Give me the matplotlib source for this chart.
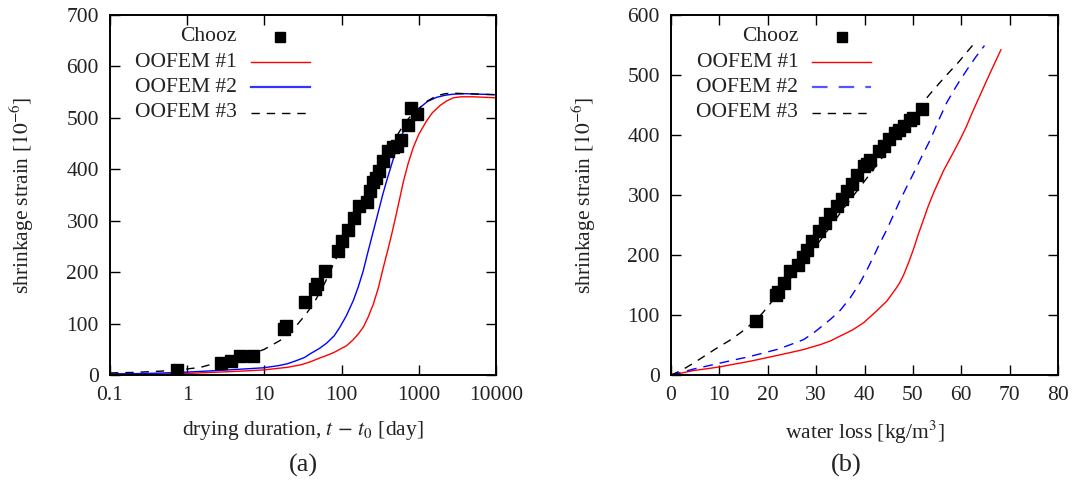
import matplotlib
matplotlib.use("Agg")
import matplotlib.pyplot as plt
import numpy as np

plt.rcParams['font.family'] = ['Liberation Serif', 'DejaVu Serif']
plt.rcParams['mathtext.fontset'] = 'stix'

# ---------------- (a) shrinkage vs. drying duration ----------------
chooz_t = [0.74, 2.7, 3.7, 4.8, 7.2, 18, 19, 34, 45, 48, 61, 91, 102, 120, 146,
           170, 211, 233, 258, 277, 308, 348, 404, 468, 518, 589, 733, 794, 940]
chooz_eps_t = [10, 24, 28, 36, 36, 89, 96, 142, 167, 177, 202, 242, 260, 281, 305,
               329, 336, 358, 375, 384, 397, 417, 436, 443, 446, 456, 486, 520, 507]

oofem1_t = [0.1, 0.2, 0.5, 1, 2, 3, 5, 10, 20, 30, 40, 52, 64, 80, 95, 116, 140,
            165, 191, 220, 258, 300, 347, 400, 446, 492, 560, 631, 730, 851, 1000,
            1260, 1500, 1883, 2300, 2800, 3500, 5000, 10000]
oofem1_eps = [1, 1.3, 2, 3, 5, 6, 7.5, 10, 15, 20, 26, 33, 38, 44, 50, 57, 68,
              80, 93, 112, 138, 170, 209, 245, 274, 302, 340, 376, 412, 443, 468,
              494, 510, 524, 533, 539, 541, 541, 539]

oofem2_t = [0.1, 0.3, 0.81, 2, 4, 9.7, 15, 20, 26, 33, 40, 52, 64, 80, 95, 115,
            142, 165, 191, 220, 258, 300, 340, 384, 450, 518, 630, 770, 900, 1037,
            1300, 1708, 2200, 2800, 4000, 10000]
oofem2_eps = [2, 3, 5, 8, 10.5, 14, 18, 22, 28, 34, 42, 52, 62, 76, 93, 115,
              145, 172, 203, 240, 280, 318, 350, 378, 412, 443, 473, 494, 509, 520,
              532, 540, 544, 546, 547, 545]

oofem3_t = [0.1, 0.2, 0.4, 0.81, 1.5, 2.2, 3.5, 5, 7.2, 10, 15.9, 20, 26, 34, 43,
            52, 62, 82, 100, 130, 160, 200, 250, 300, 400, 492, 662, 850, 1037,
            1300, 1708, 2200, 2800, 4000, 10000]
oofem3_eps = [4, 5, 7, 10, 15, 22, 30, 36, 42, 50, 67, 78, 96, 117, 138,
              160, 182, 222, 248, 280, 308, 337, 366, 392, 428, 459, 491, 509, 520,
              533, 543, 547, 548, 547, 545]

# ---------------- (b) shrinkage vs. water loss ----------------
chooz_w = [17.5, 21.7, 22.2, 23.4, 24.7, 26.2, 27.2, 28.2, 29.1, 30.5, 31.9, 32.9,
           34.3, 35.3, 36.4, 37.4, 38.4, 39.8, 40.5, 41.2, 42.9, 44.0, 45.0, 46.3,
           47.2, 48.1, 49.5, 50.1, 51.9]
chooz_eps_w = [90, 134, 139, 153, 174, 184, 197, 208, 223, 240, 254, 268,
               281, 293, 306, 318, 334, 348, 352, 359, 373, 382, 393, 404,
               408, 415, 425, 429, 443]

oofem1_w = [0, 2, 4.7, 7.5, 10.2, 13, 16.4, 19, 21.9, 25, 27.4, 31, 33, 35, 37.5,
            39.8, 42, 44.6, 45.5, 46.5, 47.3, 48.1, 49.1, 50.1, 51.1, 52.2, 53.2,
            54.3, 55.3, 56.3, 57.5, 58.7, 59.8, 61.0, 62.1, 63.2, 64.6, 66, 67.1,
            68.2]
oofem1_epsw = [0, 3, 7.5, 10.5, 13.7, 18, 23, 27.5, 32.5, 38, 42.5, 51, 57, 65, 75,
               87, 103, 123, 133, 144, 154, 167, 187, 209, 234, 259, 282,
               304, 322, 340, 358, 376, 393, 413, 434, 454, 479, 504, 523,
               542]

oofem2_w = [0, 2, 4.7, 7.5, 10.2, 13, 16.4, 19, 21.9, 24.5, 27.4, 29.3, 31, 33, 35,
            37, 39.1, 40.5, 41.9, 43.2, 44.6, 46, 47.4, 49, 50.5, 52, 53.6, 55.3,
            57, 59.1, 61.2, 63, 64.8]
oofem2_epsw = [0, 4, 10, 15, 20, 25, 31, 36.5, 42.5, 50, 59, 69, 80, 93, 108,
               128, 154, 175, 198, 220, 242, 267, 292, 318, 342, 367, 392, 424,
               454, 483, 509, 530, 549]

oofem3_w = [0, 2, 4.7, 7, 9.5, 12, 14.3, 17.4, 19, 20.5, 22, 24, 27, 30, 33, 36,
            40, 44, 47, 50.8, 53.5, 56.3, 59.5, 62.5]
oofem3_epsw = [0, 7, 20, 32, 45, 57, 70, 90, 104, 119, 134, 154, 184, 215, 248, 281,
               323, 366, 400, 441, 468, 494, 522, 551]

W, H = 1072, 491
fig = plt.figure(figsize=(W / 100, H / 100), dpi=100)

ax_a = fig.add_axes([110 / W, 1 - 375 / H, 386 / W, 360 / H])
ax_b = fig.add_axes([671 / W, 1 - 375 / H, 387 / W, 360 / H])

FS = 15.5
TXT = '#222222'
msq = dict(marker='s', ms=8, color='black', linestyle='none')

# panel (a)
ax_a.plot(oofem1_t, oofem1_eps, color='#ff0000', lw=1.0)
ax_a.plot(oofem2_t, oofem2_eps, color='#0000ff', lw=1.0)
ax_a.plot(oofem3_t, oofem3_eps, color='black', lw=1.0, dashes=(6, 5))
ax_a.plot(chooz_t, chooz_eps_t, **msq)
ax_a.set_xscale('log')
ax_a.set_xlim(0.1, 10000)
ax_a.set_ylim(0, 700)
ax_a.set_xticks([0.1, 1, 10, 100, 1000, 10000])
ax_a.set_xticklabels(['0.1', '1', '10', '100', '1000', '10000'])
ax_a.xaxis.set_minor_locator(matplotlib.ticker.NullLocator())
ax_a.set_yticks(np.arange(0, 701, 100))
ax_a.set_xlabel(r'drying duration, $t\,-\,t_0$ [day]', fontsize=FS, color=TXT)
ax_a.set_ylabel(r'shrinkage strain [$10^{-6}$]', fontsize=FS, color=TXT)
ax_a.xaxis.set_label_coords(0.5, -0.122)
ax_a.yaxis.set_label_coords(-0.193, 0.5)

# panel (b)
ax_b.plot(oofem1_w, oofem1_epsw, color='#ff0000', lw=1.0)
ax_b.plot(oofem2_w, oofem2_epsw, color='#0000ff', lw=1.0, dashes=(7, 5))
ax_b.plot(oofem3_w, oofem3_epsw, color='black', lw=1.0, dashes=(6, 5))
ax_b.plot(chooz_w, chooz_eps_w, **msq)
ax_b.set_xlim(0, 80)
ax_b.set_ylim(0, 600)
ax_b.set_xticks(np.arange(0, 81, 10))
ax_b.set_yticks(np.arange(0, 601, 100))
ax_b.set_xlabel(r'water loss [kg/m$^3$]', fontsize=FS, color=TXT)
ax_b.set_ylabel(r'shrinkage strain [$10^{-6}$]', fontsize=FS, color=TXT)
ax_b.xaxis.set_label_coords(0.5, -0.122)
ax_b.yaxis.set_label_coords(-0.188, 0.5)

for ax in (ax_a, ax_b):
    ax.tick_params(direction='in', length=7, width=1.0, top=True, right=True,
                   labelsize=FS, colors=TXT, pad=8)
    ax.tick_params(color='black')
    for s in ax.spines.values():
        s.set_linewidth(1.4)
        s.set_color('black')

# gnuplot-style key: right-aligned text, sample to the right
series_styles = {
    'a': [('Chooz', None), ('OOFEM #1', dict(color='#ff0000', lw=1.0)),
          ('OOFEM #2', dict(color='#3333ff', lw=1.6)),
          ('OOFEM #3', dict(color='black', lw=1.0, dashes=(6, 5)))],
    'b': [('Chooz', None), ('OOFEM #1', dict(color='#ff0000', lw=1.0)),
          ('OOFEM #2', dict(color='#5555ff', lw=1.6, dashes=(7, 5))),
          ('OOFEM #3', dict(color='black', lw=1.0, dashes=(6, 5)))],
}
key_y = [0.939, 0.869, 0.800, 0.728]
for ax, key in ((ax_a, 'a'), (ax_b, 'b')):
    for (label, style), yy in zip(series_styles[key], key_y):
        ax.text(0.329, yy, label, transform=ax.transAxes, ha='right', va='center',
                fontsize=FS, color=TXT)
        if style is None:
            ax.plot([0.441], [yy], transform=ax.transAxes, marker='s', ms=7.5,
                    color='black', linestyle='none', clip_on=False)
        else:
            ax.plot([0.365, 0.517], [yy, yy], transform=ax.transAxes, **style)

fig.text(303 / W, 1 - 465 / H, '(a)', ha='center', va='center', fontsize=19, color=TXT)
fig.text(846 / W, 1 - 465 / H, '(b)', ha='center', va='center', fontsize=19, color=TXT)

fig.savefig('out.png', dpi=100)
